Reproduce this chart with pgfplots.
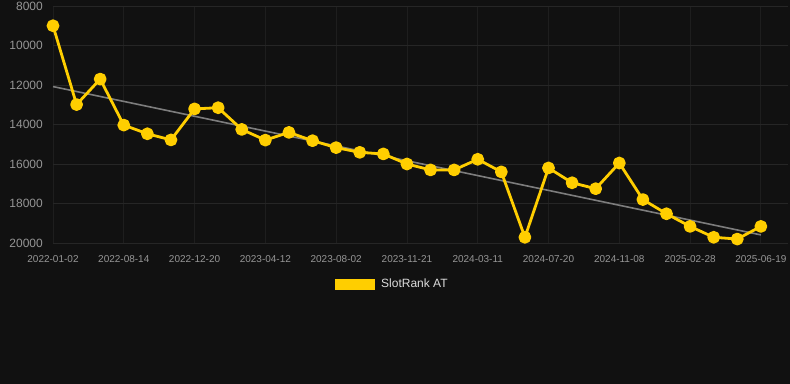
\documentclass[border=0pt]{standalone}
\usepackage{pgfplots}
\pgfplotsset{compat=1.18}
\usepackage{fontspec}
\setmainfont{Liberation Sans}
\definecolor{bg}{RGB}{17,17,17}
\definecolor{gold}{RGB}{255,206,0}
\definecolor{trend}{RGB}{125,125,125}
\definecolor{gridh}{RGB}{38,38,38}
\definecolor{gridv}{RGB}{30,30,30}
\definecolor{ticktext}{RGB}{150,150,150}
\definecolor{legtext}{RGB}{220,220,220}
\begin{document}
\begin{tikzpicture}
\fill[bg] (-53bp,-141bp) rectangle (737bp,243bp);
\begin{axis}[
  at={(0bp,0bp)}, anchor=south west,
  scale only axis, width=735bp, height=237bp,
  xmin=0, xmax=31.15,
  ymin=8000, ymax=20000, y dir=reverse,
  scaled y ticks=false, scaled x ticks=false,
  axis line style={draw=none},
  major tick length=0pt,
  xtick={0,3,...,30},
  xticklabels={2022-01-02,2022-08-14,2022-12-20,2023-04-12,2023-08-02,2023-11-21,2024-03-11,2024-07-20,2024-11-08,2025-02-28,2025-06-19},
  ytick={8000,10000,12000,14000,16000,18000,20000},
  yticklabels={8000,10000,12000,14000,16000,18000,20000},
  xticklabel style={font=\fontsize{10bp}{12bp}\selectfont, text=ticktext, inner sep=0pt, anchor=north, yshift=-12bp},
  yticklabel style={font=\fontsize{12bp}{14bp}\selectfont, text=ticktext, inner sep=0pt, anchor=east, xshift=-10bp},
  xmajorgrids, ymajorgrids,
  x grid style={gridv, line width=0.8bp},
  y grid style={gridh, line width=0.8bp},
  clip=false,
  legend style={draw=none, fill=none, at={(0.4615,-0.173)}, anchor=center,
    text=legtext, font=\fontsize{12bp}{14bp}\selectfont},
  legend image code/.code={\fill[gold, draw=none, line width=0pt, line join=miter] (0bp,-5.5bp) rectangle (40bp,5.5bp); \path (43bp,0bp);},
]
\addplot[trend, line width=1.6bp, forget plot] coordinates {(0,12080) (30,19590)};
\addplot[gold, line width=2.8bp, line join=round, mark=*, mark size=5bp, mark options={solid, fill=gold, draw=none}] coordinates {
(0,9000) (1,12990) (2,11700) (3,14030) (4,14470) (5,14780) (6,13210) (7,13150)
(8,14250) (9,14790) (10,14400) (11,14820) (12,15170) (13,15410) (14,15490)
(15,16000) (16,16300) (17,16300) (18,15760) (19,16400) (20,19710) (21,16200)
(22,16950) (23,17250) (24,15950) (25,17800) (26,18520) (27,19160) (28,19710)
(29,19800) (30,19160)};
\addlegendentry{SlotRank AT}
\end{axis}
\end{tikzpicture}
\end{document}
